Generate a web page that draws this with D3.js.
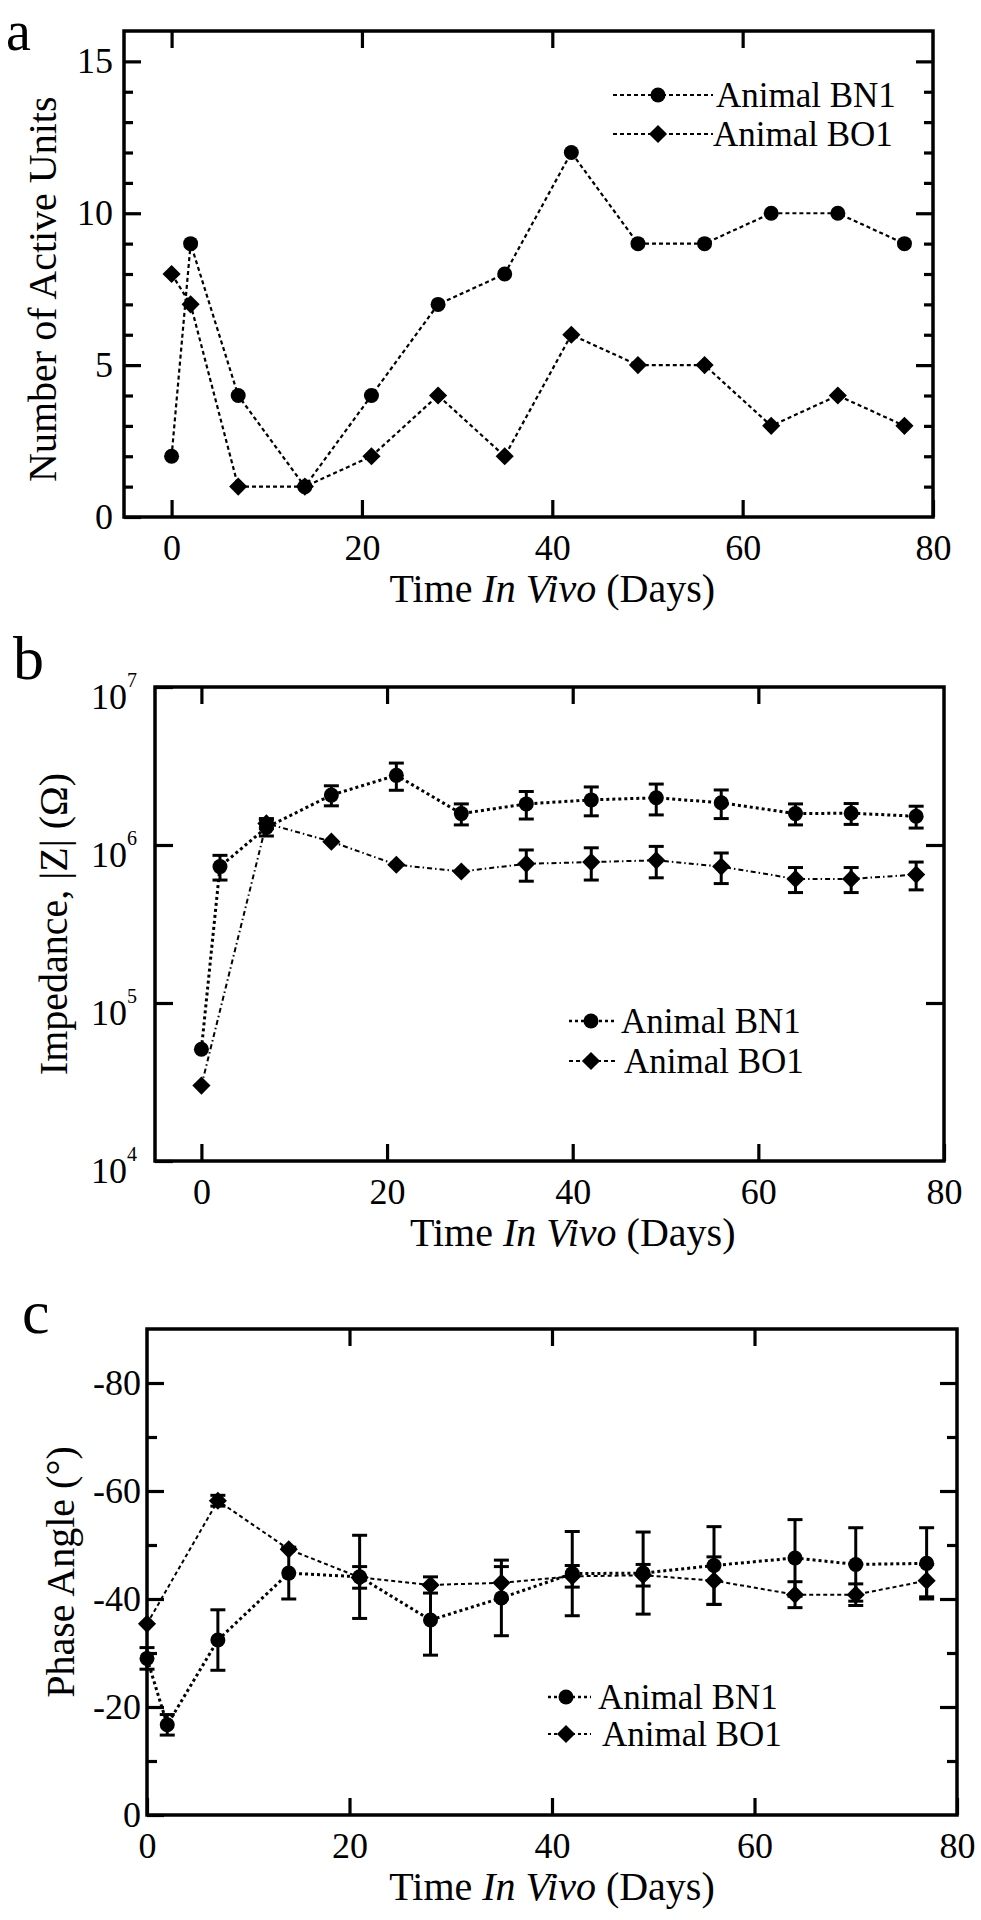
<!DOCTYPE html>
<html><head><meta charset="utf-8">
<script src="https://cdn.jsdelivr.net/npm/d3@7"></script>
<style>body{margin:0;background:#fff}</style>
</head><body>
<script>
// ---------- DATA ----------
const daysA = [0,2,7,14,21,28,35,42,49,56,63,70,77];
const unitsBN1 = [2,9,4,1,4,7,8,12,9,9,10,10,9];
const unitsBO1 = [8,7,1,1,2,4,2,6,5,5,3,4,3];

const daysBN1 = [0,2,7,14,21,28,35,42,49,56,64,70,77];
const daysBO1 = [0,7,14,21,28,35,42,49,56,64,70,77];

const impBN1    = [5.1e4,7.3e5,1.29e6,2.07e6,2.76e6,1.58e6,1.82e6,1.93e6,1.99e6,1.85e6,1.58e6,1.59e6,1.52e6];
const impBN1Err = [0,1.3e5,1.5e5,3.0e5,5.4e5,2.4e5,3.6e5,4.0e5,4.4e5,3.8e5,2.4e5,2.4e5,2.4e5];
const impBO1    = [3.0e4,1.37e6,1.05e6,7.5e5,6.8e5,7.6e5,7.8e5,8.0e5,7.3e5,6.1e5,6.1e5,6.5e5];
const impBO1Err = [0,1.0e5,0,0,0,1.7e5,1.8e5,1.8e5,1.6e5,1.1e5,1.1e5,1.3e5];

const phaseBN1    = [-29,-16.7,-32.4,-44.8,-44.1,-36.1,-40.2,-44.7,-44.8,-46.2,-47.6,-46.4,-46.6];
const phaseBN1Err = [2,1.9,5.6,4.8,7.7,6.5,7,7.8,7.6,7.2,7.1,6.8,6.6];
const phaseBO1    = [-35.4,-58.2,-49.2,-44.0,-42.6,-43.0,-44.2,-44.4,-43.4,-40.8,-40.8,-43.4];
const phaseBO1Err = [0,1,0,2,1.5,3,2,2,4.4,2.4,2,3];

const seriesNames = ["Animal BN1","Animal BO1"];
const xTicks = [0,20,40,60,80];

// ---------- SETUP ----------
const FONT = "'Liberation Serif','Times New Roman',Times,serif";
const W = 981, H = 1920;
const svg = d3.select("body").append("svg").attr("width",W).attr("height",H)
  .style("background","#fff");
svg.append("rect").attr("width",W).attr("height",H).attr("fill","#fff");

function styleAxis(g, fs){
  g.select("path.domain").remove();
  g.attr("font-family",FONT).attr("font-size",fs||36);
  g.selectAll(".tick line").attr("stroke","#000").attr("stroke-width",3.2);
  g.selectAll(".tick text").attr("fill","#000");
  return g;
}
function pts(days, vals, errs){ return days.map((d,i)=>({d, v:vals[i], e: errs? errs[i]:0})); }

function drawSeries(g, x, y, data, kind, lw, dash){
  const line = d3.line().x(p=>x(p.d)).y(p=>y(p.v));
  g.append("path").datum(data).attr("d",line).attr("fill","none")
    .attr("stroke","#000").attr("stroke-width",lw).attr("stroke-dasharray",dash);
  const eb = g.append("g");
  data.filter(p=>p.e>0).forEach(p=>{
    const cx = x(p.d), y1 = y(p.v - p.e), y2 = y(p.v + p.e);
    eb.append("line").attr("x1",cx).attr("x2",cx).attr("y1",y1).attr("y2",y2)
      .attr("stroke","#000").attr("stroke-width",3);
    [y1,y2].forEach(yy=> eb.append("line").attr("x1",cx-7.5).attr("x2",cx+7.5)
      .attr("y1",yy).attr("y2",yy).attr("stroke","#000").attr("stroke-width",3));
  });
  drawMarkers(g, data.map(p=>[x(p.d), y(p.v)]), kind);
}
function drawMarkers(g, xy, kind){
  if(kind==="circle"){
    g.selectAll(null).data(xy).enter().append("circle")
      .attr("cx",d=>d[0]).attr("cy",d=>d[1]).attr("r",7.5).attr("fill","#000");
  } else {
    const sym = d3.symbol().type(d3.symbolSquare).size(165);
    g.selectAll(null).data(xy).enter().append("path").attr("d",sym)
      .attr("transform",d=>`translate(${d[0]},${d[1]}) rotate(45)`).attr("fill","#000");
  }
}
function legend(g, x1, x2, xm, tx, yy, kind, lw, dash, label){
  g.append("line").attr("x1",x1).attr("x2",x2).attr("y1",yy).attr("y2",yy)
    .attr("stroke","#000").attr("stroke-width",lw).attr("stroke-dasharray",dash);
  drawMarkers(g, [[xm,yy]], kind);
  g.append("text").attr("x",tx).attr("y",yy).attr("dy","0.34em")
    .attr("font-family",FONT).attr("font-size",35).text(label);
}
function frame(L,R,T,B){
  svg.append("rect").attr("x",L).attr("y",T).attr("width",R-L).attr("height",B-T)
    .attr("fill","none").attr("stroke","#000").attr("stroke-width",3.5);
}
function xTitle(cx, by){
  const t = svg.append("text").attr("x",cx).attr("y",by).attr("text-anchor","middle")
    .attr("font-family",FONT).attr("font-size",40);
  t.append("tspan").text("Time ");
  t.append("tspan").attr("font-style","italic").text("In Vivo");
  t.append("tspan").text(" (Days)");
}
function yTitle(bx, cy, label){
  svg.append("text").attr("transform",`translate(${bx},${cy}) rotate(-90)`)
    .attr("text-anchor","middle").attr("font-family",FONT).attr("font-size",40).text(label);
}
function panelLetter(x, y, s, fs){
  svg.append("text").attr("x",x).attr("y",y).attr("font-family",FONT)
    .attr("font-size",fs).text(s);
}

// ---------- PANEL A ----------
{
  const L=124,R=933,T=31,B=517;
  const x = d3.scaleLinear().domain([-5,80]).range([L,R]);
  const y = d3.scaleLinear().domain([0,16]).range([B,T]);
  const g = svg.append("g");
  styleAxis(g.append("g").attr("transform",`translate(0,${B})`)
    .call(d3.axisBottom(x).tickValues(xTicks).tickSizeInner(-17).tickSizeOuter(0).tickPadding(17)));
  styleAxis(g.append("g").attr("transform",`translate(0,${T})`)
    .call(d3.axisTop(x).tickValues(xTicks.slice(0,4)).tickSizeInner(-17).tickSizeOuter(0).tickFormat("")));
  styleAxis(g.append("g").attr("transform",`translate(${L},0)`)
    .call(d3.axisLeft(y).tickValues([0,5,10,15]).tickSizeInner(-17).tickSizeOuter(0).tickPadding(11)));
  styleAxis(g.append("g").attr("transform",`translate(${L},0)`)
    .call(d3.axisLeft(y).tickValues(d3.range(1,16).filter(v=>v%5)).tickSizeInner(-9).tickSizeOuter(0).tickFormat("")));
  styleAxis(g.append("g").attr("transform",`translate(${R},0)`)
    .call(d3.axisRight(y).tickValues([5,10,15]).tickSizeInner(-17).tickSizeOuter(0).tickFormat("")));
  styleAxis(g.append("g").attr("transform",`translate(${R},0)`)
    .call(d3.axisRight(y).tickValues(d3.range(1,16).filter(v=>v%5)).tickSizeInner(-9).tickSizeOuter(0).tickFormat("")));
  frame(L,R,T,B);
  drawSeries(g, x, y, pts(daysA, unitsBN1), "circle", 2.2, "4,3");
  drawSeries(g, x, y, pts(daysA, unitsBO1), "diamond", 2.2, "4,3");
  legend(g, 613, 713, 658, 716, 95, "circle", 2.2, "4,3", seriesNames[0]);
  legend(g, 613, 713, 658, 713, 134, "diamond", 2.2, "4,3", seriesNames[1]);
  xTitle(x(40), 602);
  yTitle(56, y(7.5), "Number of Active Units");
  panelLetter(6, 50, "a", 56);
}

// ---------- PANEL B ----------
{
  const L=155,R=944,T=687,B=1161;
  const x = d3.scaleLinear().domain([-5,80]).range([L,R]);
  const y = d3.scaleLog().domain([1e4,1e7]).range([B,T]);
  const g = svg.append("g");
  styleAxis(g.append("g").attr("transform",`translate(0,${B})`)
    .call(d3.axisBottom(x).tickValues(xTicks).tickSizeInner(-17).tickSizeOuter(0).tickPadding(17)));
  styleAxis(g.append("g").attr("transform",`translate(0,${T})`)
    .call(d3.axisTop(x).tickValues(xTicks.slice(0,4)).tickSizeInner(-17).tickSizeOuter(0).tickFormat("")));
  const gl = styleAxis(g.append("g").attr("transform",`translate(${L},0)`)
    .call(d3.axisLeft(y).tickValues([1e4,1e5,1e6,1e7]).tickSizeInner(-18).tickSizeOuter(0).tickPadding(18)));
  gl.selectAll(".tick text").each(function(d){
    const t = d3.select(this);
    t.text("10").attr("dy","0.6em");
    t.append("tspan").attr("font-size",20).attr("dy",-22).text(Math.round(Math.log10(d)));
  });
  styleAxis(g.append("g").attr("transform",`translate(${R},0)`)
    .call(d3.axisRight(y).tickValues([1e5,1e6]).tickSizeInner(-18).tickSizeOuter(0).tickFormat("")));
  frame(L,R,T,B);
  drawSeries(g, x, y, pts(daysBO1, impBO1, impBO1Err), "diamond", 2, "5,3,1.5,3");
  drawSeries(g, x, y, pts(daysBN1, impBN1, impBN1Err), "circle", 3, "3,3");
  legend(g, 569, 616, 591, 621, 1021, "circle", 2.5, "3,3", seriesNames[0]);
  legend(g, 569, 616, 591, 624, 1061, "diamond", 2, "4,3", seriesNames[1]);
  xTitle(x(40), 1246);
  yTitle(67, (T+B)/2, "Impedance, |Z| (\u03A9)");
  panelLetter(13, 679, "b", 62);
}

// ---------- PANEL C ----------
{
  const L=147,R=957,T=1329,B=1815;
  const x = d3.scaleLinear().domain([0,80]).range([L,R]);
  const y = d3.scaleLinear().domain([0,-90]).range([B,T]);
  const g = svg.append("g");
  styleAxis(g.append("g").attr("transform",`translate(0,${B})`)
    .call(d3.axisBottom(x).tickValues(xTicks).tickSizeInner(-17).tickSizeOuter(0).tickPadding(17)));
  styleAxis(g.append("g").attr("transform",`translate(0,${T})`)
    .call(d3.axisTop(x).tickValues([20,40,60]).tickSizeInner(-17).tickSizeOuter(0).tickFormat("")));
  styleAxis(g.append("g").attr("transform",`translate(${L},0)`)
    .call(d3.axisLeft(y).tickValues([0,-20,-40,-60,-80]).tickSizeInner(-17).tickSizeOuter(0).tickPadding(6)
      .tickFormat(d=>String(d))));
  styleAxis(g.append("g").attr("transform",`translate(${L},0)`)
    .call(d3.axisLeft(y).tickValues([-10,-30,-50,-70]).tickSizeInner(-10).tickSizeOuter(0).tickFormat("")));
  styleAxis(g.append("g").attr("transform",`translate(${R},0)`)
    .call(d3.axisRight(y).tickValues([-20,-40,-60,-80]).tickSizeInner(-17).tickSizeOuter(0).tickFormat("")));
  styleAxis(g.append("g").attr("transform",`translate(${R},0)`)
    .call(d3.axisRight(y).tickValues([-10,-30,-50,-70]).tickSizeInner(-10).tickSizeOuter(0).tickFormat("")));
  frame(L,R,T,B);
  drawSeries(g, x, y, pts(daysBO1, phaseBO1, phaseBO1Err), "diamond", 2, "4,3");
  drawSeries(g, x, y, pts(daysBN1, phaseBN1, phaseBN1Err), "circle", 3, "3,3");
  legend(g, 548, 591, 566, 598, 1697, "circle", 2.5, "3,3", seriesNames[0]);
  legend(g, 548, 591, 566, 602, 1734, "diamond", 2, "3,3", seriesNames[1]);
  xTitle(x(40), 1900);
  yTitle(74, (T+B)/2, "Phase Angle (\u00B0)");
  panelLetter(22, 1333, "c", 62);
}
</script>
</body></html>
